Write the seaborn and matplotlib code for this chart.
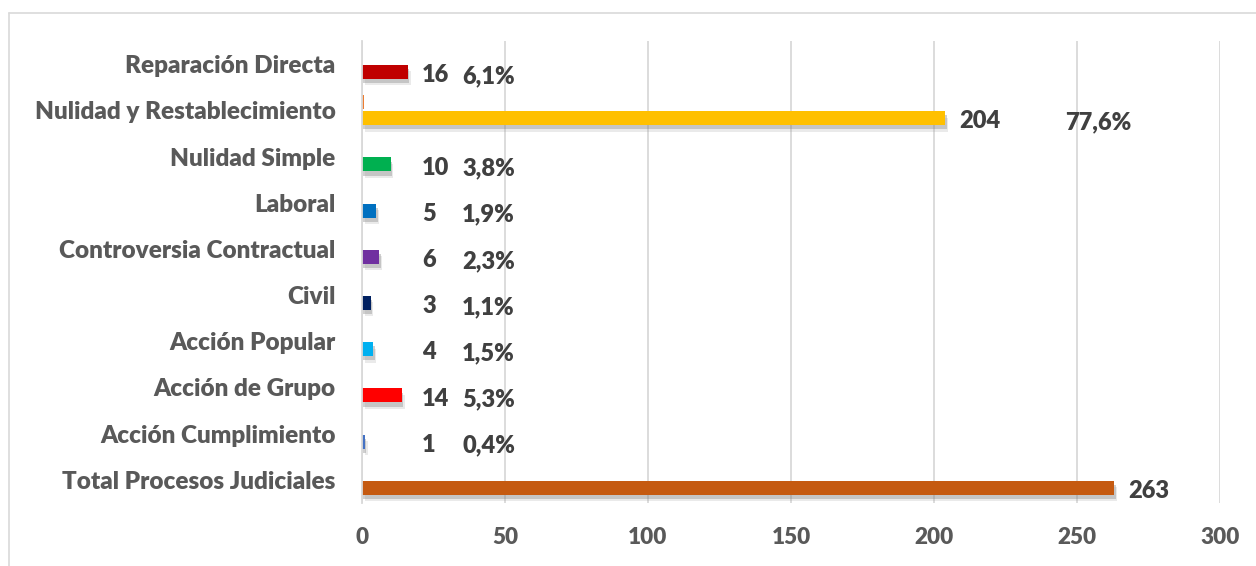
import numpy as np
import pandas as pd
import matplotlib
matplotlib.use("Agg")
import matplotlib.pyplot as plt
import matplotlib.patheffects as pe
from matplotlib.lines import Line2D
import seaborn as sns

# ── Data ─────────────────────────────────────────────────────────────────────
categorias = [
    "Reparación Directa",
    "Nulidad y Restablecimiento",
    "Nulidad Simple",
    "Laboral",
    "Controversia Contractual",
    "Civil",
    "Acción Popular",
    "Acción de Grupo",
    "Acción Cumplimiento",
    "Total Procesos Judiciales",
]
cantidades = [16, 204, 10, 5, 6, 3, 4, 14, 1, 263]
porcentajes = [6.1, 77.6, 3.8, 1.9, 2.3, 1.1, 1.5, 5.3, 0.4, np.nan]
colores = ["#C00000", "#FFC000", "#00B050", "#0070C0", "#7030A0",
           "#002060", "#00B0F0", "#FF0000", "#4472C4", "#C55A11"]
color_pct = "#ED7D31"
x_ticks = [0, 50, 100, 150, 200, 250, 300]

df = pd.DataFrame({
    "categoria": categorias * 2,
    "serie": ["Porcentaje"] * len(categorias) + ["Cantidad"] * len(categorias),
    "valor": [p / 100 for p in porcentajes] + cantidades,
})

# ── Plot ─────────────────────────────────────────────────────────────────────
sns.set_style("white")
plt.rcParams["font.family"] = ["Lato", "DejaVu Sans"]

fig = plt.figure(figsize=(12.56, 5.66), dpi=100)
ax = fig.add_axes([362 / 1256, 1 - 503 / 566, 858 / 1256, 462 / 566])

sns.barplot(data=df, y="categoria", x="valor", hue="serie",
            hue_order=["Porcentaje", "Cantidad"], order=categorias,
            orient="h", width=0.69, gap=0.12, linewidth=0,
            legend=False, ax=ax)

shadow = [pe.SimplePatchShadow(offset=(1.0, -3.0), shadow_rgbFace="#7a7a7a", alpha=0.35),
          pe.SimplePatchShadow(offset=(2.0, -4.5), shadow_rgbFace="#9a9a9a", alpha=0.2),
          pe.Normal()]
for cont, serie in zip(ax.containers, ["Porcentaje", "Cantidad"]):
    for bar in cont:
        idx = int(round(bar.get_y() + bar.get_height() / 2))
        if serie == "Porcentaje":
            bar.set_facecolor(color_pct)
        else:
            bar.set_facecolor(colores[idx])
            bar.set_path_effects(shadow)

# value labels
txt = dict(color="#404040", fontsize=17, fontweight="heavy", va="center")
for i, (v, p) in enumerate(zip(cantidades, porcentajes)):
    cx = max(v, 16) + 5
    ax.text(cx, i + 0.24, f"{v}", ha="left", **txt)
    if not np.isnan(p):
        px = cx + (37 if v > 100 else 14)
        ax.text(px, i + 0.26, f"{p:.1f}%".replace(".", ","), ha="left", **txt)

ax.set_xlim(0, 300)
ax.set_xticks(x_ticks)
ax.set_xlabel("")
ax.set_ylabel("")
ax.xaxis.grid(True, color="#D9D9D9", linewidth=1.3)
ax.set_axisbelow(True)
for s in ["top", "right", "bottom"]:
    ax.spines[s].set_visible(False)
ax.spines["left"].set_color("#D9D9D9")
ax.spines["left"].set_linewidth(1.3)
ax.tick_params(axis="x", length=0, labelcolor="#595959", labelsize=16.2, pad=17)
ax.tick_params(axis="y", length=0, labelcolor="#595959", labelsize=17.5, pad=19)
for lab in ax.get_xticklabels() + ax.get_yticklabels():
    lab.set_fontweight("heavy")

# chart frame
fig.add_artist(Line2D([9 / 1256, 9 / 1256], [0, 1 - 12.5 / 566], color="#D9D9D9",
                      linewidth=1.2, transform=fig.transFigure))
fig.add_artist(Line2D([9 / 1256, 1], [1 - 12.5 / 566, 1 - 12.5 / 566], color="#D9D9D9",
                      linewidth=1.2, transform=fig.transFigure))

fig.savefig("out.png", dpi=100)
